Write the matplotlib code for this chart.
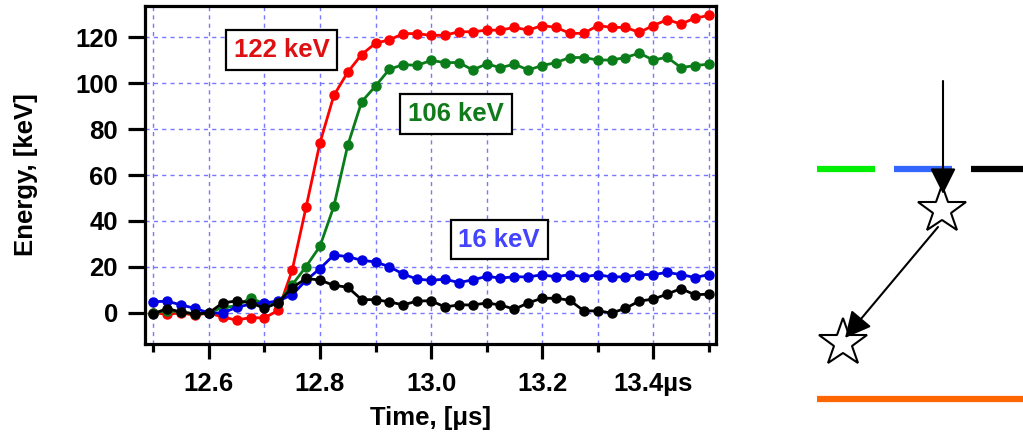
import numpy as np
import matplotlib.pyplot as plt
from matplotlib.ticker import MultipleLocator, FixedLocator

plt.rcParams['font.family'] = ['Liberation Sans', 'DejaVu Sans']
plt.rcParams['font.weight'] = 'bold'

# time axis: one sample every 25 ns from 12.5 to 13.5 us
time_us = np.round(np.arange(41) * 0.025 + 12.5, 3)

# 122 keV signal (red)
e_red = [0, -0.5, 0, -1, 0, -1.8, -3.1, -2, -2.2, 1.2,
         18.6, 46, 74, 94.6, 104.7, 112.4, 117.3, 118.8, 121.5, 121.5,
         120.7, 120.8, 122.3, 122.3, 123, 123, 124.2, 123, 125, 124.2,
         121.6, 121.6, 125, 124.2, 124.2, 122, 125, 127.5, 125.7, 128.2, 129.4]

# 106 keV signal (green)
e_green = [0, 1, 0.5, -0.5, 0, 2.5, 3, 6.5, 4, 4.5,
           12.2, 20.2, 29, 46.4, 72.9, 91.8, 98.7, 106, 108, 107.7,
           109.8, 108.9, 108.9, 105.7, 108.3, 106.7, 108.2, 105.7, 107.6, 108.9,
           111.1, 111.1, 110, 110, 111.1, 113, 110, 111.2, 106.7, 107.6, 108.2]

# 16 keV signal (blue)
e_blue = [4.9, 5.1, 3.5, 2, 0, 0, 2.5, 3.8, 4.4, 5.2,
          7.9, 14.2, 19.3, 25.2, 24.5, 22.9, 22.2, 20.1, 16.9, 14.7,
          14.2, 14.7, 13.2, 14.4, 15.9, 15.2, 15.7, 15.7, 16.6, 15.7,
          16.7, 15.7, 16.6, 15.7, 15.7, 16.7, 16.7, 17.6, 16.7, 15.4, 16.7]

# sum / reference signal (black)
e_black = [-0.3, 1.9, 0.4, -0.4, 0, 4.4, 5.2, 4.5, 2, 4.5,
           11, 15, 14.3, 12, 11.2, 5.8, 5.8, 4.8, 3.5, 5.2,
           5.3, 2.6, 3.5, 3.5, 4.3, 3.5, 1.6, 4.4, 6.4, 6.4,
           5.5, 0.9, 0.9, 0, 2, 5.2, 6, 8.2, 10.6, 7.9, 8.2]

fig = plt.figure(figsize=(10.23, 4.4), dpi=100)
ax = fig.add_axes([145 / 1023, 1 - 344 / 440, 571 / 1023, 338 / 440])

lw, ms = 2.0, 6.5
ax.plot(time_us, e_red, color='#ff0000', lw=lw, marker='o', ms=ms, zorder=3)
ax.plot(time_us, e_green, color='#0a7d1a', lw=lw, marker='o', ms=ms, zorder=3)
ax.plot(time_us, e_blue, color='#0000e0', lw=lw, marker='o', ms=ms, zorder=3)
ax.plot(time_us, e_black, color='#000000', lw=lw, marker='o', ms=ms, zorder=3)

ax.set_xlim(12.485, 13.513)
ax.set_ylim(-13.5, 133.5)

xt = [12.6, 12.8, 13.0, 13.2, 13.4]
ax.xaxis.set_major_locator(FixedLocator(xt))
ax.set_xticklabels(['12.6', '12.8', '13.0', '13.2', '13.4\u00b5s'])
ax.xaxis.set_minor_locator(FixedLocator([12.5, 12.7, 12.9, 13.1, 13.3, 13.5]))
ax.yaxis.set_major_locator(MultipleLocator(20))

for x in np.arange(12.5, 13.51, 0.1):
    ax.axvline(x, color='#7777ff', lw=1, ls=(0, (3, 3)), zorder=1)
for y in range(0, 121, 20):
    ax.axhline(y, color='#7777ff', lw=1, ls=(0, (3, 3)), zorder=1)

for s in ax.spines.values():
    s.set_linewidth(2.3)
ax.tick_params(axis='both', which='major', direction='out', width=2.3,
               length=12.5, labelsize=18.5, pad=7)
ax.tick_params(axis='x', which='major', length=11, pad=9)
ax.tick_params(axis='x', which='minor', direction='out', width=2.3, length=6)

ax.set_xlabel('Time, [\u03bcs]', fontsize=18.5, fontweight='bold', labelpad=7)
ax.set_ylabel('Energy, [keV]', fontsize=18.5, fontweight='bold', labelpad=27)

box = dict(boxstyle='square,pad=0.3', fc='white', ec='black', lw=1.6)
ax.text(12.7306, 114.4, '122 keV', color='#dd1111', fontsize=18.5,
        fontweight='bold', ha='center', va='center', bbox=box, zorder=5)
ax.text(13.045, 86.5, '106 keV', color='#117a1a', fontsize=18.5,
        fontweight='bold', ha='center', va='center', bbox=box, zorder=5)
ax.text(13.1225, 31.9, '16 keV', color='#4444ff', fontsize=18.5,
        fontweight='bold', ha='center', va='center', bbox=box, zorder=5)

# level scheme on the right, drawn in pixel units
sk = fig.add_axes([0, 0, 1, 1], facecolor='none')
sk.set_xlim(0, 1023)
sk.set_ylim(440, 0)
sk.axis('off')

sk.plot([817, 875], [169, 169], color='#00ee00', lw=4.5, solid_capstyle='butt')
sk.plot([894, 952], [169, 169], color='#3366ff', lw=4.5, solid_capstyle='butt')
sk.plot([971, 1023], [169, 169], color='#000000', lw=4.5, solid_capstyle='butt')
sk.plot([817, 1023], [399, 399], color='#ff6600', lw=4.5, solid_capstyle='butt')

arrow = dict(arrowstyle='-|>,head_length=0.8,head_width=0.4', color='black',
             lw=1.5, mutation_scale=20, shrinkA=0, shrinkB=0)
sk.annotate('', xy=(943, 194), xytext=(943, 81), arrowprops=arrow)
sk.annotate('', xy=(845, 338), xytext=(938, 227), arrowprops=arrow)

sk.plot([942], [210], marker='*', ms=36, mfc='white', mec='black', mew=1.5)
sk.plot([843], [343], marker='*', ms=36, mfc='white', mec='black', mew=1.5)

fig.savefig('out.png', dpi=100)
